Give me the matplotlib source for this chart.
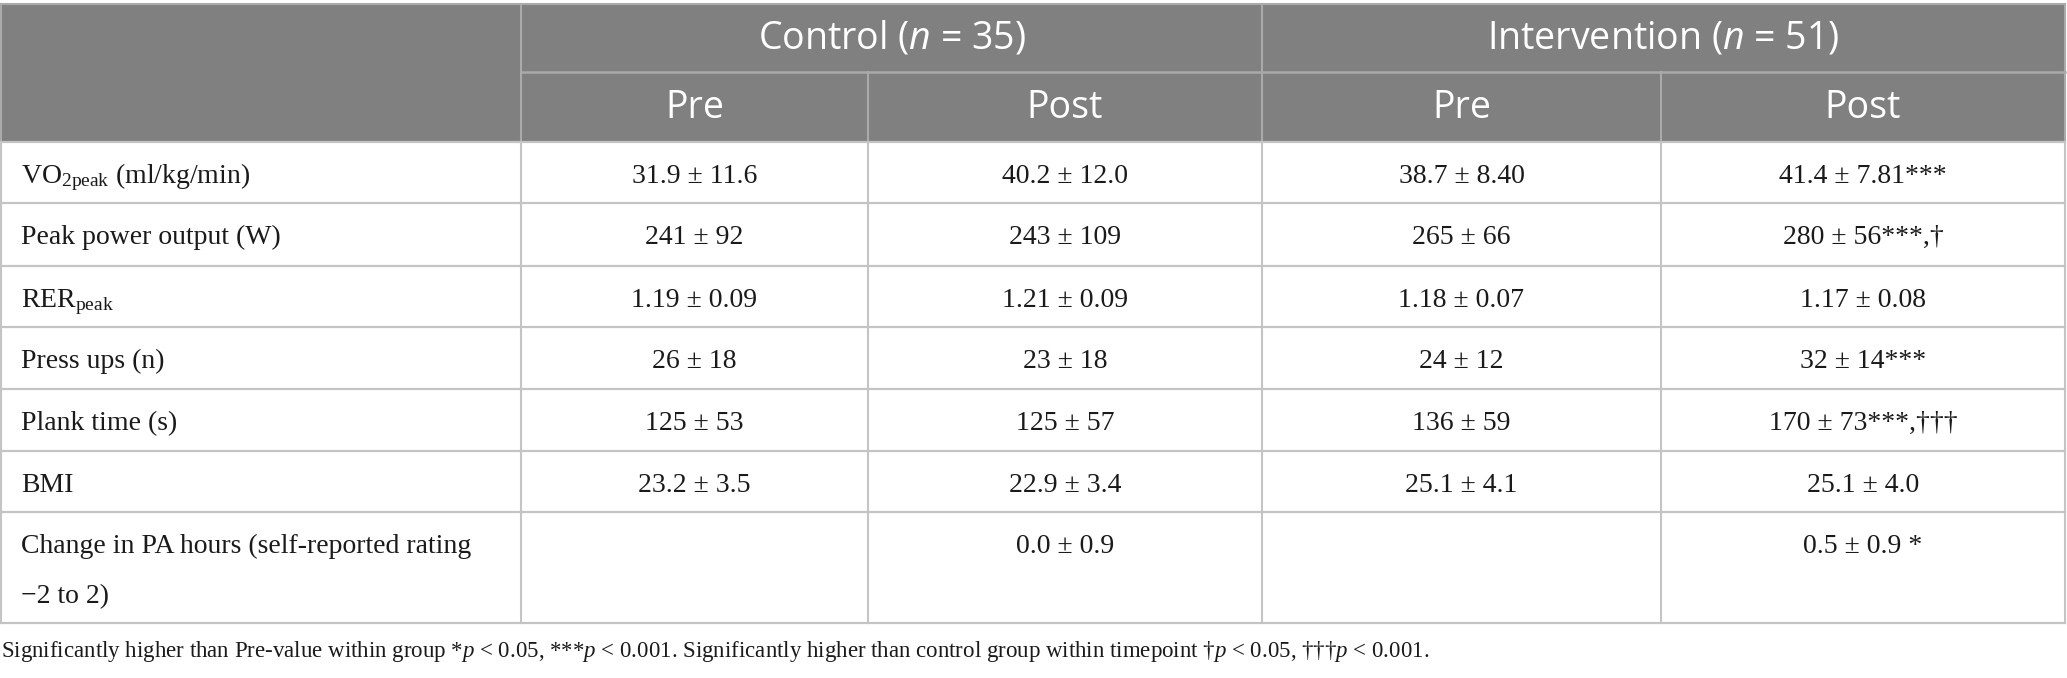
import matplotlib
matplotlib.use("Agg")
import matplotlib.pyplot as plt
from matplotlib.patches import Rectangle

plt.rcParams['mathtext.fontset'] = 'custom'
plt.rcParams['mathtext.rm'] = 'Liberation Serif'
plt.rcParams['mathtext.it'] = 'Liberation Serif:italic'
plt.rcParams['mathtext.cal'] = 'Open Sans:italic:normal'

# ---- data ----
groups = [r"Control ($\mathcal{n}$ = 35)", r"Intervention ($\mathcal{n}$ = 51)"]
timepoints = ["Pre", "Post", "Pre", "Post"]
row_labels = [
    r"VO$_{\mathrm{2peak}}$ (ml/kg/min)",
    "Peak power output (W)",
    r"RER$_{\mathrm{peak}}$",
    "Press ups (n)",
    "Plank time (s)",
    "BMI",
    "Change in PA hours (self-reported rating\n\u22122 to 2)",
]
control_pre = ["31.9 ± 11.6", "241 ± 92", "1.19 ± 0.09", "26 ± 18", "125 ± 53", "23.2 ± 3.5", ""]
control_post = ["40.2 ± 12.0", "243 ± 109", "1.21 ± 0.09", "23 ± 18", "125 ± 57", "22.9 ± 3.4", "0.0 ± 0.9"]
interv_pre = ["38.7 ± 8.40", "265 ± 66", "1.18 ± 0.07", "24 ± 12", "136 ± 59", "25.1 ± 4.1", ""]
interv_post = ["41.4 ± 7.81***", "280 ± 56***,†", "1.17 ± 0.08", "32 ± 14***", "170 ± 73***,†††", "25.1 ± 4.0", "0.5 ± 0.9 *"]
footnote = (r"Significantly higher than Pre-value within group *$p$ < 0.05, ***$p$ < 0.001. "
            r"Significantly higher than control group within timepoint †$p$ < 0.05, †††$p$ < 0.001.")

# ---- layout (pixels) ----
W, H = 2067, 678
col_x = [1, 521, 868, 1262, 1661, 2065]
hdr_y = [4, 72, 142]
row_y = [142, 203, 266, 327, 389, 451, 512, 623]

HDR_BG = "#7f807f"
HDR_LINE = "#a9aaa9"
BODY_LINE = "#c4c4c4"
TXT = "#1a1a1a"

fig = plt.figure(figsize=(W / 100, H / 100), dpi=100)
ax = fig.add_axes([0, 0, 1, 1])
ax.set_xlim(0, W)
ax.set_ylim(H, 0)
ax.axis("off")

# header background
ax.add_patch(Rectangle((col_x[0], hdr_y[0]), col_x[-1] - col_x[0], hdr_y[2] - hdr_y[0],
                       facecolor=HDR_BG, edgecolor="none", zorder=1))
# header lines
ax.plot([col_x[0], col_x[-1]], [hdr_y[0], hdr_y[0]], color=HDR_LINE, lw=1.5, zorder=2)
ax.plot([col_x[1], col_x[-1]], [hdr_y[1], hdr_y[1]], color=HDR_LINE, lw=1.8, zorder=2)
for x in (col_x[0], col_x[1], col_x[3], col_x[5]):
    ax.plot([x, x], [hdr_y[0], hdr_y[2]], color=HDR_LINE, lw=1.5, zorder=2)
for x in (col_x[2], col_x[4]):
    ax.plot([x, x], [hdr_y[1], hdr_y[2]], color=HDR_LINE, lw=1.5, zorder=2)

# body lines
for y in row_y:
    ax.plot([col_x[0], col_x[-1]], [y, y], color=BODY_LINE, lw=1.6, zorder=2)
for x in col_x:
    ax.plot([x, x], [row_y[0], row_y[-1]], color=BODY_LINE, lw=1.5, zorder=2)

hfont = dict(family="Open Sans", fontsize=27, color="white", weight="normal")
bfont = dict(family="Liberation Serif", fontsize=20, color=TXT)

# group headers
for i, g in enumerate(groups):
    cx = (col_x[1 + 2 * i] + col_x[3 + 2 * i]) / 2
    ax.text(cx, (hdr_y[0] + hdr_y[1]) / 2 + 1, g, ha="center", va="center", zorder=3, **hfont)
for i, t in enumerate(timepoints):
    cx = (col_x[1 + i] + col_x[2 + i]) / 2
    ax.text(cx, (hdr_y[1] + hdr_y[2]) / 2 + 1, t, ha="center", va="center", zorder=3, **hfont)

cols = [control_pre, control_post, interv_pre, interv_post]
for r, lab in enumerate(row_labels):
    top = row_y[r]
    base = top + 41
    lines = lab.split("\n")
    for k, ln in enumerate(lines):
        ax.text(21, base + 50 * k, ln, ha="left", va="baseline", zorder=3, **bfont)
    for c, col in enumerate(cols):
        cx = (col_x[1 + c] + col_x[2 + c]) / 2
        ax.text(cx, base, col[r], ha="center", va="baseline", zorder=3, **bfont)

ax.text(1, 657, footnote, ha="left", va="baseline", family="Liberation Serif", fontsize=16.5, color=TXT)

fig.savefig("out.png", dpi=100)
